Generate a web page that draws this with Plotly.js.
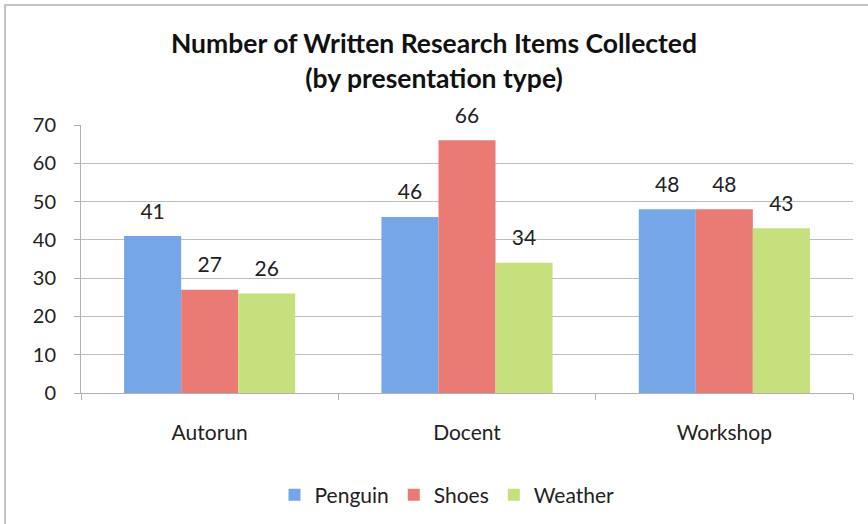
<!DOCTYPE html>
<html>
<head>
<meta charset="utf-8">
<script src="https://cdn.plot.ly/plotly-3.0.1.min.js"></script>
<style>
  html, body { margin: 0; padding: 0; background: #fff; }
  #wrap { position: relative; width: 868px; height: 524px; overflow: hidden; }
  #chart { width: 868px; height: 524px; }
  #frame { position: absolute; left: 4px; top: 4px; width: 880px; height: 540px;
           border-top: 2px solid #c4c4c4; border-left: 2px solid #c4c4c4; pointer-events: none; }
</style>
</head>
<body>
<div id="wrap">
  <div id="chart"></div>
  <div id="frame"></div>
</div>
<script>
const categories = ["Autorun", "Docent", "Workshop"];
const penguin = [41, 46, 48];
const shoes = [27, 66, 48];
const weather = [26, 34, 43];
const seriesNames = ["Penguin", "Shoes", "Weather"];
const yTicks = [0, 10, 20, 30, 40, 50, 60, 70];

const colors = ["#74a6e8", "#ea7b74", "#c5e07c"];
const values = [penguin, shoes, weather];
const font = "Lato, 'Open Sans', sans-serif";
const gap = 0.335;

const bars = values.map((v, i) => ({
  type: "bar",
  name: seriesNames[i],
  x: categories,
  y: v,
  offsetgroup: String(i),
  marker: { color: colors[i], line: { width: 0 } },
  hoverinfo: "x+y+name"
}));

const labels = values.map((v, i) => ({
  type: "scatter",
  mode: "markers+text",
  name: seriesNames[i] + " labels",
  showlegend: false,
  x: categories,
  y: v,
  offsetgroup: String(i),
  marker: { size: 18, opacity: 0, color: colors[i] },
  text: v.map(String),
  textposition: "top center",
  textfont: { family: font, size: 21, color: "#222" },
  cliponaxis: false,
  hoverinfo: "skip"
}));

const layout = {
  width: 868,
  height: 524,
  margin: { l: 81, r: 15, t: 125, b: 131 },
  paper_bgcolor: "#ffffff",
  plot_bgcolor: "#ffffff",
  font: { family: font, size: 18, color: "#222" },
  title: {
    text: "<b>Number of Written Research Items Collected<br>(by presentation type)</b>",
    font: { family: font, size: 26.5, color: "#111" },
    x: 0.5, xanchor: "center",
    y: 0.898, yanchor: "middle"
  },
  barmode: "group",
  bargap: gap,
  bargroupgap: 0,
  scattermode: "group",
  scattergap: gap,
  showlegend: true,
  legend: {
    orientation: "h",
    xref: "container", yref: "container",
    x: 0.515, xanchor: "center",
    y: 0.055, yanchor: "middle",
    font: { family: font, size: 21, color: "#222" },
    itemwidth: 30,
    traceorder: "normal"
  },
  xaxis: {
    type: "category",
    tickson: "boundaries",
    ticks: "outside",
    ticklen: 6,
    tickcolor: "#b0b0b0",
    showline: true,
    linecolor: "#b0b0b0",
    linewidth: 1,
    showgrid: false,
    tickfont: { family: font, size: 21, color: "#222" },
    ticklabelstandoff: 21
  },
  yaxis: {
    range: [0, 70],
    tickvals: yTicks,
    ticktext: yTicks.map(String),
    ticks: "outside",
    ticklen: 6,
    tickcolor: "#b0b0b0",
    showline: true,
    linecolor: "#b0b0b0",
    linewidth: 1,
    showgrid: true,
    gridcolor: "#bdbdbd",
    gridwidth: 1,
    zeroline: false,
    tickfont: { family: font, size: 20, color: "#222" },
    ticklabelstandoff: 14
  }
};

Plotly.newPlot("chart", bars.concat(labels), layout, { displayModeBar: false, staticPlot: true });
</script>
</body>
</html>
